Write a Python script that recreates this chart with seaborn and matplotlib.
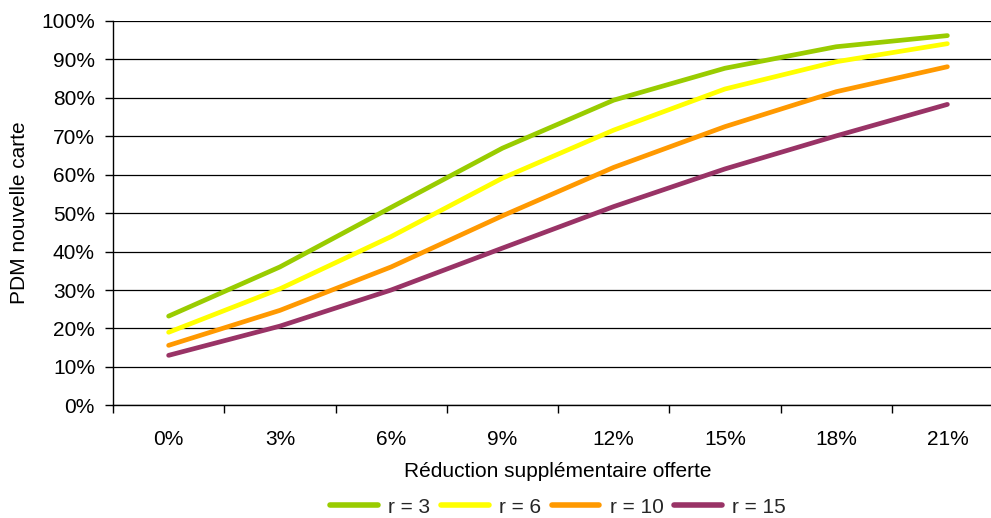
import matplotlib
matplotlib.use("Agg")
import matplotlib.pyplot as plt
import pandas as pd
import seaborn as sns
from matplotlib.ticker import FixedLocator, PercentFormatter

# x categories and one series per value of r (market share, %)
categories = ["0%", "3%", "6%", "9%", "12%", "15%", "18%", "21%"]
r3 = [23.2, 36.0, 51.5, 66.9, 79.4, 87.7, 93.3, 96.2]
r6 = [19.0, 30.3, 43.9, 59.1, 71.6, 82.3, 89.4, 94.1]
r10 = [15.6, 24.7, 36.0, 49.3, 61.9, 72.5, 81.6, 88.1]
r15 = [13.0, 20.6, 30.0, 40.9, 51.7, 61.5, 70.1, 78.3]
series_names = ["r = 3", "r = 6", "r = 10", "r = 15"]
colors = ["#99CC00", "#FFFF00", "#FF9900", "#993366"]

rows = []
for name, vals in zip(series_names, [r3, r6, r10, r15]):
    for cat, v in zip(categories, vals):
        rows.append({"cat": cat, "val": v, "serie": name})
df = pd.DataFrame(rows)

sns.set_theme(style="white")
plt.rcParams["font.family"] = ["Liberation Sans", "DejaVu Sans"]
fs = 15

fig = plt.figure(figsize=(9.91, 5.18), dpi=100)
# plot area: left 113px, right ~1003px (cut by the image edge), top 21px, bottom 405px
ax = fig.add_axes([113 / 991, (518 - 405.3) / 518, 890 / 991, 384.3 / 518])

sns.lineplot(data=df, x="cat", y="val", hue="serie", palette=colors,
             linewidth=3.4, ax=ax, sort=False)
for line in ax.get_lines():
    line.set_solid_capstyle("round")

ax.set_xlim(-0.5, len(categories) - 0.5)
ax.set_ylim(0, 100)
ax.set_yticks(range(0, 101, 10))
ax.yaxis.set_major_formatter(PercentFormatter(decimals=0))
ax.grid(axis="y", color="#000000", linewidth=0.9)
ax.set_axisbelow(True)

# tick marks sit between categories, labels at category centres
ax.xaxis.set_minor_locator(FixedLocator([i - 0.5 for i in range(len(categories) + 1)]))
ax.tick_params(axis="x", which="major", length=0, pad=18, labelsize=fs, colors="#000000")
ax.tick_params(axis="x", which="minor", bottom=True, length=6, width=1, color="#000000")
ax.tick_params(axis="y", left=True, length=6, width=1, pad=7, labelsize=fs,
               color="#000000", labelcolor="#000000")

for side in ["top", "right"]:
    ax.spines[side].set_visible(False)
for side in ["left", "bottom"]:
    ax.spines[side].set_color("#000000")
    ax.spines[side].set_linewidth(1)

ax.set_xlabel("Réduction supplémentaire offerte", fontsize=fs, labelpad=9, color="#000000")
ax.set_ylabel("PDM nouvelle carte", fontsize=fs, labelpad=9, color="#000000")

leg = ax.legend(loc="center", bbox_to_anchor=(0.5, -0.265), ncol=4, frameon=False,
                fontsize=fs, handlelength=2.3, columnspacing=0.5, handletextpad=0.5)
for h in leg.get_lines():
    h.set_linewidth(4)

fig.savefig("out.png", dpi=100)
